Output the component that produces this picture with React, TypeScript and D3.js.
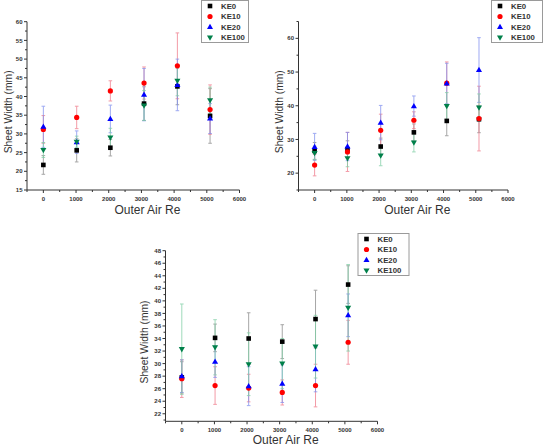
import React from "react";
import * as d3 from "d3";

const seriesNames = ["KE0", "KE10", "KE20", "KE100"];
const colors = ["#000000", "#ff0000", "#0000ff", "#00804a"];
const errColors = ["#8a8a8a", "#f07a8a", "#7f8fef", "#7fcfa5"];
const xValues = [0, 1020, 2050, 3080, 4100, 5100];
const xTicks = [0, 1000, 2000, 3000, 4000, 5000, 6000];

// Panel A (top left)
const aKE0 = [21.7, 25.6, 26.3, 38.1, 42.7, 34.8];
const aKE0err = [2.5, 3.1, 2.2, 4.5, 4.9, 7.3];
const aKE10 = [31.2, 34.4, 41.5, 43.6, 48.2, 36.5];
const aKE10err = [3.7, 3.0, 2.7, 4.3, 8.8, 6.6];
const aKE20 = [31.9, 27.8, 34.0, 40.5, 43.1, 34.1];
const aKE20err = [5.5, 3.0, 3.7, 7.0, 6.9, 4.0];
const aKE100 = [25.7, 27.9, 29.0, 37.6, 44.2, 39.0];
const aKE100err = [2.0, 1.5, 2.5, 4.0, 4.0, 3.5];
const aYTicks = [15, 20, 25, 30, 35, 40, 45, 50, 55, 60];

// Panel B (top right)
const bKE0 = [26.6, 27.1, 27.9, 32.1, 35.5, 36.0];
const bKE0err = [2.5, 2.5, 2.5, 2.5, 4.4, 4.0];
const bKE10 = [22.4, 26.3, 32.7, 35.7, 46.7, 36.2];
const bKE10err = [3.2, 5.8, 4.8, 2.5, 6.3, 9.6];
const bKE20 = [27.8, 27.9, 35.0, 39.9, 46.6, 50.6];
const bKE20err = [4.0, 4.2, 5.1, 3.0, 6.0, 9.6];
const bKE100 = [26.0, 24.4, 25.2, 29.1, 39.9, 39.5];
const bKE100err = [2.0, 2.5, 3.0, 2.8, 4.0, 4.0];
const bYTicks = [20, 30, 40, 50, 60];

// Panel C (bottom)
const cKE0 = [27.8, 34.1, 34.0, 33.5, 37.1, 42.6];
const cKE0err = [2.5, 2.2, 4.1, 2.7, 4.6, 3.0];
const cKE10 = [27.6, 26.5, 26.1, 25.4, 26.5, 33.4];
const cKE10err = [3.0, 3.0, 2.2, 2.0, 3.4, 3.5];
const cKE20 = [28.0, 30.3, 26.4, 26.8, 29.1, 37.7];
const cKE20err = [2.6, 2.5, 3.1, 3.0, 3.6, 3.4];
const cKE100 = [32.3, 32.6, 29.9, 30.0, 32.7, 38.9];
const cKE100err = [7.2, 4.4, 5.0, 4.0, 5.0, 6.9];
const cYTicks = [22, 24, 26, 28, 30, 32, 34, 36, 38, 40, 42, 44, 46, 48];

const xTitle = "Outer Air Re";
const yTitle = "Sheet Width (mm)";

type PanelCfg = {
  values: number[][];
  errors: number[][];
  yDomain: [number, number];
  yTicks: number[];
  yMinorStep: number;
  xRange: [number, number];
  yRange: [number, number];
  yTitleX: number;
  xTitleY: number;
  legend: { x: number; y: number; w: number; h: number };
};

const panels: PanelCfg[] = [
  {
    values: [aKE0, aKE10, aKE20, aKE100],
    errors: [aKE0err, aKE10err, aKE20err, aKE100err],
    yDomain: [15, 60],
    yTicks: aYTicks,
    yMinorStep: 2.5,
    xRange: [27, 239.5],
    yRange: [190, 21.7],
    yTitleX: 8,
    xTitleY: 214,
    legend: { x: 201, y: 0, w: 48, h: 43 },
  },
  {
    values: [bKE0, bKE10, bKE20, bKE100],
    errors: [bKE0err, bKE10err, bKE20err, bKE100err],
    yDomain: [15, 65],
    yTicks: bYTicks,
    yMinorStep: 5,
    xRange: [298.5, 508],
    yRange: [190, 21.5],
    yTitleX: 279,
    xTitleY: 214,
    legend: { x: 491, y: 0, w: 52, h: 43 },
  },
  {
    values: [cKE0, cKE10, cKE20, cKE100],
    errors: [cKE0err, cKE10err, cKE20err, cKE100err],
    yDomain: [20.8, 48],
    yTicks: cYTicks,
    yMinorStep: 1,
    xRange: [165.5, 377.5],
    yRange: [421.3, 250.7],
    yTitleX: 144,
    xTitleY: 444,
    legend: { x: 357.5, y: 233, w: 52, h: 43 },
  },
];

const FONT = "'Liberation Sans', Arial, sans-serif";

function Marker({ i, x, y }: { i: number; x: number; y: number }) {
  const c = colors[i];
  if (i === 0) return <rect x={x - 2.3} y={y - 2.3} width={4.6} height={4.6} fill={c} />;
  if (i === 1) return <circle cx={x} cy={y} r={2.6} fill={c} />;
  const sym = d3.symbol().type(d3.symbolTriangle).size(16)();
  return (
    <path
      d={sym || ""}
      transform={`translate(${x},${y + (i === 3 ? -0.3 : 0.3)}) rotate(${i === 3 ? 180 : 0})`}
      fill={c}
    />
  );
}

function Panel({ cfg }: { cfg: PanelCfg }) {
  const x = d3.scaleLinear().domain([-500, 6000]).range(cfg.xRange);
  const y = d3.scaleLinear().domain(cfg.yDomain).range(cfg.yRange);
  const x0 = cfg.xRange[0];
  const yb = cfg.yRange[0];
  const yt = cfg.yRange[1];
  const minorX = d3.range(-500, 6001, 500).filter((v) => v % 1000 !== 0);
  const minorY = d3
    .range(cfg.yTicks[0] - cfg.yMinorStep, cfg.yDomain[1] + 0.001, cfg.yMinorStep)
    .filter((v) => v >= cfg.yDomain[0] && !cfg.yTicks.some((t) => Math.abs(t - v) < 1e-6));
  const lg = cfg.legend;
  const xMid = (x(0) + x(6000)) / 2 + 6;
  const yMid = (yb + yt) / 2 + 6;
  return (
    <g>
      {/* error bars */}
      {cfg.values.map((vals, si) =>
        vals.map((v, k) => {
          const e = cfg.errors[si][k];
          const px = x(xValues[k]);
          return (
            <g key={`e${si}-${k}`} stroke={errColors[si]} strokeWidth={1} opacity={0.75}>
              <line x1={px} x2={px} y1={y(v - e)} y2={y(v + e)} />
              <line x1={px - 1.8} x2={px + 1.8} y1={y(v - e)} y2={y(v - e)} />
              <line x1={px - 1.8} x2={px + 1.8} y1={y(v + e)} y2={y(v + e)} />
            </g>
          );
        })
      )}
      {cfg.values.map((vals, si) =>
        vals.map((v, k) => <Marker key={`m${si}-${k}`} i={si} x={x(xValues[k])} y={y(v)} />)
      )}
      {/* axes */}
      <g stroke="#333" strokeWidth={1}>
        <line x1={x0} x2={x(6000)} y1={yb} y2={yb} />
        <line x1={x0} x2={x0} y1={yb} y2={yt} />
        {xTicks.map((t) => (
          <line key={`xt${t}`} x1={x(t)} x2={x(t)} y1={yb} y2={yb + 3} />
        ))}
        {minorX.map((t) => (
          <line key={`xm${t}`} x1={x(t)} x2={x(t)} y1={yb} y2={yb + 2} />
        ))}
        {cfg.yTicks.map((t) => (
          <line key={`yt${t}`} x1={x0 - 3} x2={x0} y1={y(t)} y2={y(t)} />
        ))}
        {minorY.map((t) => (
          <line key={`ym${t}`} x1={x0 - 2} x2={x0} y1={y(t)} y2={y(t)} />
        ))}
      </g>
      <g fontFamily={FONT} fontSize={6} fontWeight="bold" fill="#333">
        {xTicks.map((t) => (
          <text key={`xl${t}`} x={x(t)} y={yb + 10.5} textAnchor="middle">
            {t}
          </text>
        ))}
        {cfg.yTicks.map((t) => (
          <text key={`yl${t}`} x={x0 - 4.5} y={y(t) + 2.1} textAnchor="end">
            {t}
          </text>
        ))}
      </g>
      <text x={xMid} y={cfg.xTitleY} textAnchor="middle" fontFamily={FONT} fontSize={12} fill="#333">
        {xTitle}
      </text>
      <text
        transform={`translate(${cfg.yTitleX},${yMid}) rotate(-90)`}
        textAnchor="middle"
        fontFamily={FONT}
        fontSize={10.3}
        dy="0.35em"
        fill="#333"
      >
        {yTitle}
      </text>
      {/* legend */}
      <rect x={lg.x + 0.5} y={lg.y + 0.5} width={lg.w - 1} height={lg.h - 1} fill="white" stroke="#9a9a9a" strokeWidth={1} />
      {seriesNames.map((n, si) => {
        const ry = lg.y + 6 + si * 10.5;
        return (
          <g key={`lg${si}`}>
            <Marker i={si} x={lg.x + 9} y={ry} />
            <text x={lg.x + 20} y={ry + 2.8} fontFamily={FONT} fontSize={7.8} fontWeight="bold" fill="#333">
              {n}
            </text>
          </g>
        );
      })}
    </g>
  );
}

export default function App() {
  return (
    <svg
      width={543}
      height={446}
      viewBox="0 0 543 446"
      style={{ position: "absolute", left: 0, top: 0, background: "white" }}
    >
      <rect width={543} height={446} fill="white" />
      {panels.map((p, i) => (
        <Panel key={i} cfg={p} />
      ))}
    </svg>
  );
}
